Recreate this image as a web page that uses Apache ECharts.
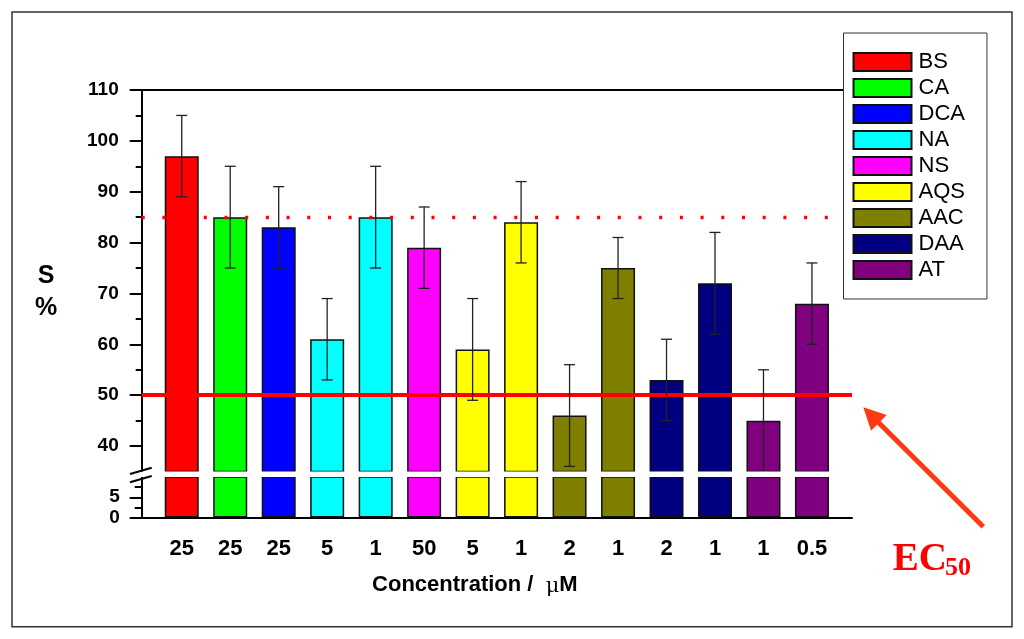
<!DOCTYPE html>
<html>
<head>
<meta charset="utf-8">
<script src="https://cdn.jsdelivr.net/npm/echarts@6/dist/echarts.min.js"></script>
<style>
html,body{margin:0;padding:0;background:#fff;}
#c{width:1024px;height:639px;}
</style>
</head>
<body>
<div id="c"></div>
<script>
// ---- data ----
const categories = ['25','25','25','5','1','50','5','1','2','1','2','1','1','0.5'];
const compounds  = ['BS','CA','DCA','NA','NA','NS','AQS','AQS','AAC','AAC','DAA','DAA','AT','AT'];
const survival   = [97,85,83,61,85,79,59,84,46,75,53,72,45,68];
const errors     = [8,10,8,8,10,8,10,8,10,6,8,10,10,8];
const legendNames = ['BS','CA','DCA','NA','NS','AQS','AAC','DAA','AT'];
const upperMajorTicks = [40,50,60,70,80,90,100,110];
const upperMinorTicks = [45,55,65,75,85,95,105];
const lowerMajorTicks = [0,5];
const lowerMinorTicks = [2.5,7.5];
const thresholdLine = 85;
const ec50Line = 50;

// ---- styles ----
const colors = ['#ff0000','#00ff00','#0000ff','#00ffff','#ff00ff','#ffff00','#808000','#000080','#800080'];
const FONT = 'Liberation Sans, Arial, Helvetica, sans-serif';
const SERIF = 'Liberation Serif, Times New Roman, serif';

const chart = echarts.init(document.getElementById('c'), null, {renderer:'canvas'});

const frameX = {left:141.7, right:172};
const barX = {left:157.5, right:187.8};
const upperY = {top:90, height:381.5};
const lowerY = {top:477, height:40.5};

function barSeries(xi, yi){
  return legendNames.map((name,k)=>({
    type:'bar', name, xAxisIndex:xi, yAxisIndex:yi,
    barWidth:34, barGap:'-100%', clip:true,
    data: survival.map((v,i)=> compounds[i]===name ? v : '-'),
    itemStyle:{color:colors[k], borderColor:'#111', borderWidth:1.5},
    emphasis:{disabled:true},
    animation:false
  }));
}

const hiddenVal = {type:'value', min:0, max:1, show:false};

const option = {
  animation:false,
  textStyle:{fontFamily:FONT},
  grid:[
    Object.assign({outerBoundsMode:'none'}, frameX, upperY),
    Object.assign({outerBoundsMode:'none'}, barX, upperY),
    Object.assign({outerBoundsMode:'none'}, frameX, lowerY),
    Object.assign({outerBoundsMode:'none'}, barX, lowerY),
    Object.assign({outerBoundsMode:'none'}, frameX, {top:90, height:427.5})
  ],
  xAxis:[
    {gridIndex:0, type:'value', min:0, max:1, position:'top',
      axisLine:{show:true, lineStyle:{color:'#000', width:2}}, axisTick:{show:false}, axisLabel:{show:false}, splitLine:{show:false}},
    {gridIndex:1, type:'category', data:categories, show:false},
    {gridIndex:2, type:'value', min:0, max:1, position:'bottom',
      axisLine:{show:true, lineStyle:{color:'#000', width:2}}, axisTick:{show:false}, axisLabel:{show:false}, splitLine:{show:false}},
    {gridIndex:3, type:'category', data:categories, position:'bottom',
      axisLine:{show:false}, axisTick:{show:false},
      axisLabel:{interval:0, fontSize:22, fontWeight:'bold', color:'#000', margin:20, fontFamily:FONT},
      name:'Concentration /  {mu|μ}M', nameLocation:'middle', nameGap:55,
      nameTextStyle:{fontSize:22, fontWeight:'bold', color:'#000', fontFamily:FONT, padding:[0,44,0,0],
        rich:{mu:{fontFamily:'DejaVu Serif, serif', fontWeight:'normal', fontSize:21, color:'#000', padding:[4,0,0,0]}}}},
    Object.assign({gridIndex:4}, hiddenVal)
  ],
  yAxis:[
    {gridIndex:0, type:'value', min:35, max:110, position:'left',
      axisLine:{show:true, lineStyle:{color:'#000', width:2}},
      axisTick:{show:true, length:12, customValues:upperMajorTicks, lineStyle:{color:'#000', width:2}},
      axisLabel:{customValues:upperMajorTicks, fontSize:19, fontWeight:'bold', color:'#000', margin:23, fontFamily:FONT},
      splitLine:{show:false}},
    {gridIndex:0, type:'value', min:35, max:110, position:'left',
      axisLine:{show:false},
      axisTick:{show:true, length:6, customValues:upperMinorTicks, lineStyle:{color:'#000', width:2}},
      axisLabel:{show:false}, splitLine:{show:false}},
    {gridIndex:1, type:'value', min:35, max:110, show:false},
    {gridIndex:2, type:'value', min:0, max:10, position:'left',
      axisLine:{show:true, lineStyle:{color:'#000', width:2}},
      axisTick:{show:true, length:12, customValues:lowerMajorTicks, lineStyle:{color:'#000', width:2}},
      axisLabel:{customValues:lowerMajorTicks, fontSize:19, fontWeight:'bold', color:'#000', margin:22, fontFamily:FONT},
      splitLine:{show:false}},
    {gridIndex:2, type:'value', min:0, max:10, position:'left',
      axisLine:{show:false},
      axisTick:{show:true, length:7, customValues:lowerMinorTicks, lineStyle:{color:'#000', width:2}},
      axisLabel:{show:false}, splitLine:{show:false}},
    {gridIndex:3, type:'value', min:0, max:10, show:false},
    {gridIndex:4, type:'value', min:0, max:1, position:'right',
      axisLine:{show:true, lineStyle:{color:'#000', width:2}}, axisTick:{show:false}, axisLabel:{show:false}, splitLine:{show:false}}
  ],
  legend:{
    data:legendNames, orient:'vertical', left:843.5, top:33,
    icon:'rect', itemWidth:58, itemHeight:18, itemGap:4,
    padding:[18,22,18,9],
    backgroundColor:'#fff', borderColor:'#333', borderWidth:1, z:20,
    textStyle:{fontSize:22, lineHeight:22, color:'#000', fontFamily:FONT, padding:[0,0,0,2]},
    selectedMode:false
  },
  series:[
    ...barSeries(1,2),
    ...barSeries(3,5),
    {
      type:'custom', xAxisIndex:1, yAxisIndex:2, z:5,
      data: survival.map((v,i)=>[i, v-errors[i], v+errors[i]]),
      encode:{x:0, y:[1,2]},
      renderItem:function(params, api){
        const x = api.value(0);
        const lo = api.coord([x, api.value(1)]);
        const hi = api.coord([x, api.value(2)]);
        const hw = 5.5;
        const st = {stroke:'#222', lineWidth:1.3};
        return {type:'group', children:[
          {type:'line', shape:{x1:lo[0], y1:lo[1], x2:hi[0], y2:hi[1]}, style:st},
          {type:'line', shape:{x1:hi[0]-hw, y1:hi[1], x2:hi[0]+hw, y2:hi[1]}, style:st},
          {type:'line', shape:{x1:lo[0]-hw, y1:lo[1], x2:lo[0]+hw, y2:lo[1]}, style:st}
        ]};
      },
      animation:false
    },
    {
      type:'line', xAxisIndex:0, yAxisIndex:0, data:[], z:4,
      markLine:{
        silent:true, symbol:['none','none'], label:{show:false}, animation:false,
        data:[
          {yAxis:thresholdLine, lineStyle:{color:'#ff0000', width:3.3, type:[3,17.7]}},
          {yAxis:ec50Line, lineStyle:{color:'#ff0000', width:4, type:'solid'}}
        ]
      }
    }
  ],
  graphic:[
    {type:'rect', z:1, shape:{x:12, y:12, width:1000, height:614.7}, style:{fill:'none', stroke:'#333', lineWidth:1.5}},
    {type:'rect', z:100, shape:{x:126, y:471.5, width:724.5, height:5.5}, style:{fill:'#fff'}},
    {type:'line', z:101, shape:{x1:130, y1:474, x2:151.7, y2:467.7}, style:{stroke:'#000', lineWidth:2}},
    {type:'line', z:101, shape:{x1:130, y1:482.3, x2:151.7, y2:476}, style:{stroke:'#000', lineWidth:2}},
    {type:'text', z:101, x:46, y:292, style:{text:'S\n%', fontSize:25, fontWeight:'bold', fontFamily:FONT, fill:'#000', align:'center', verticalAlign:'middle', lineHeight:32}},
    {type:'line', z:101, shape:{x1:983.3, y1:526.7, x2:874, y2:418}, style:{stroke:'#ff3a10', lineWidth:5}},
    {type:'polygon', z:101, shape:{points:[[863.3,407.3],[886.7,415.1],[871.1,430.7]]}, style:{fill:'#ff3a10'}},
    {type:'text', z:101, x:892.7, y:560, style:{text:'EC', fontSize:39, fontWeight:'bold', fontFamily:SERIF, fill:'#ff0000', align:'left', verticalAlign:'middle'}},
    {type:'text', z:101, x:945, y:568.5, style:{text:'50', fontSize:26, fontWeight:'bold', fontFamily:SERIF, fill:'#ff0000', align:'left', verticalAlign:'middle'}}
  ]
};
chart.setOption(option);
</script>
</body>
</html>
